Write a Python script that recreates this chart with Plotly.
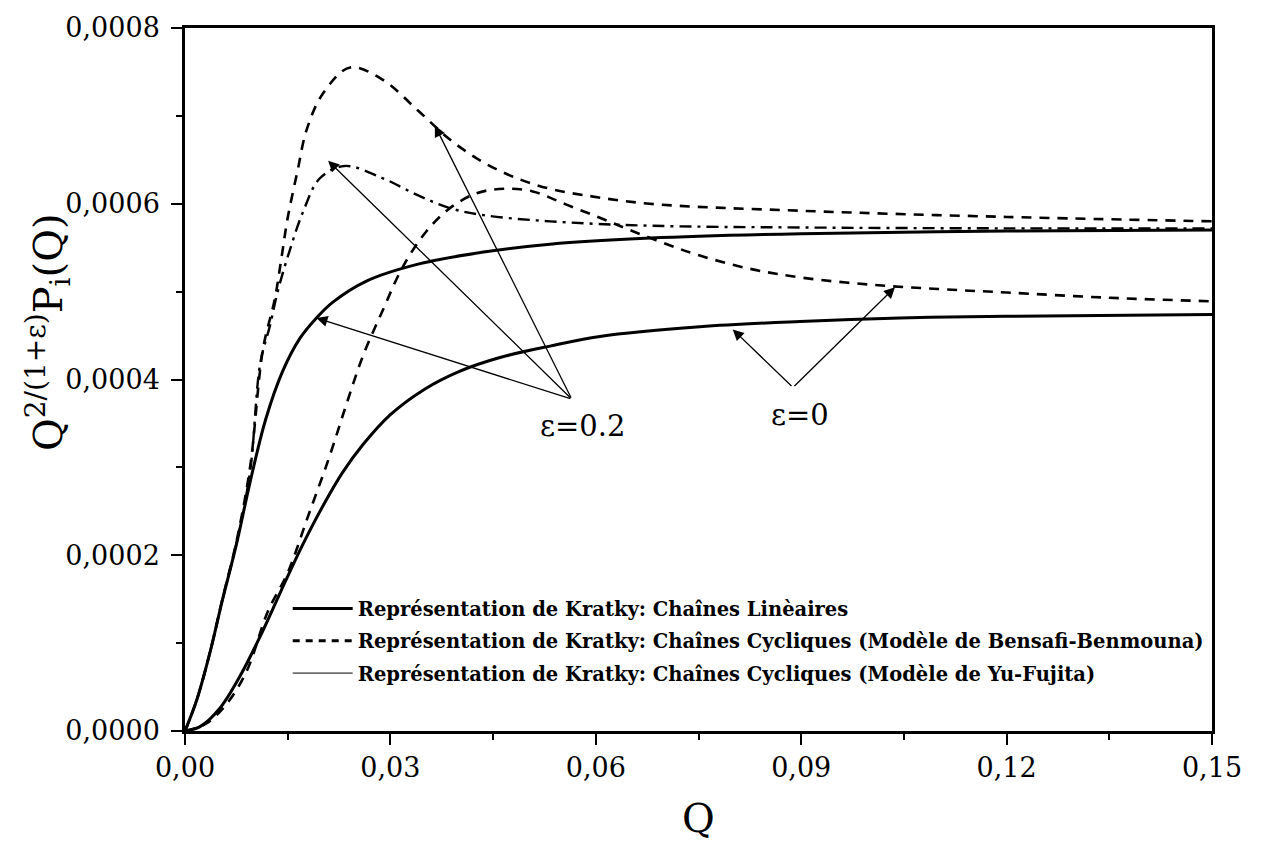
import plotly.graph_objects as go

# Q grid and Kratky curves, values in units of the y axis (Q^{2/(1+eps)} P_i(Q))
q_lin_e02 = [0.0, 0.0017, 0.0037, 0.0054, 0.0075, 0.0095, 0.0118, 0.0143, 0.0168,
             0.0192, 0.0216, 0.0265, 0.0339, 0.0436, 0.0533, 0.068, 0.09, 0.12, 0.15]
v_lin_e02 = [0.0, 0.000035, 0.000091, 0.000147, 0.000212, 0.000283, 0.000355, 0.000410,
             0.000447, 0.000470, 0.000488, 0.000512, 0.000531, 0.000545, 0.000554,
             0.000561, 0.000566, 0.000569, 0.000570]

q_lin_e0 = [0.0, 0.0022, 0.005, 0.008, 0.011, 0.014, 0.017, 0.02, 0.023, 0.026, 0.03,
            0.035, 0.04, 0.046, 0.0533, 0.0606, 0.0752, 0.0898, 0.1044, 0.12, 0.15]
v_lin_e0 = [0.0, 0.000005, 0.000025, 0.000062, 0.000108, 0.000159, 0.000209, 0.000254,
            0.000294, 0.000326, 0.000360, 0.000389, 0.000409, 0.000425, 0.000438,
            0.000449, 0.000460, 0.000466, 0.000470, 0.000472, 0.000474]

q_bb_e02 = [0.0, 0.0017, 0.0037, 0.0054, 0.0075, 0.0095, 0.0114, 0.0131, 0.0141, 0.015,
            0.0164, 0.0178, 0.0202, 0.0241, 0.0289, 0.0339, 0.0387, 0.0436, 0.0485,
            0.0533, 0.0581, 0.0679, 0.09, 0.12, 0.15]
v_bb_e02 = [0.0, 0.000035, 0.000091, 0.000148, 0.000215, 0.000300, 0.000435, 0.000491,
            0.000539, 0.000584, 0.000636, 0.000685, 0.000726, 0.000755, 0.000741,
            0.000707, 0.000673, 0.000647, 0.000629, 0.000617, 0.000610, 0.000600,
            0.000592, 0.000585, 0.000580]

q_bb_e0 = [0.0, 0.003, 0.006, 0.009, 0.0121, 0.015, 0.018, 0.021, 0.0235, 0.026, 0.0289,
           0.0318, 0.0353, 0.0387, 0.0426, 0.0465, 0.0508, 0.0557, 0.0606, 0.065, 0.07,
           0.0752, 0.0825, 0.09, 0.1, 0.11, 0.12, 0.135, 0.15]
v_bb_e0 = [0.0, 0.000008, 0.000030, 0.000068, 0.000136, 0.000180, 0.000245, 0.000310,
           0.000370, 0.000427, 0.000479, 0.000528, 0.000569, 0.000595, 0.000612,
           0.000617, 0.000614, 0.000599, 0.000584, 0.000570, 0.000555, 0.000541,
           0.000526, 0.000516, 0.000508, 0.000503, 0.000499, 0.000493, 0.000489]

q_yf_e02 = [0.0, 0.0017, 0.0037, 0.0054, 0.0075, 0.0095, 0.011, 0.0124, 0.0136, 0.0153,
            0.0173, 0.0197, 0.0233, 0.0289, 0.0339, 0.0387, 0.0436, 0.0533, 0.068,
            0.09, 0.12, 0.15]
v_yf_e02 = [0.0, 0.000035, 0.000091, 0.000147, 0.000213, 0.000295, 0.000419, 0.000461,
            0.000502, 0.000547, 0.000592, 0.000629, 0.000643, 0.000629, 0.000610,
            0.000595, 0.000587, 0.000580, 0.000575, 0.000573, 0.000572, 0.000572]

legend_names = [
    "Représentation de Kratky: Chaînes Linèaires",
    "Représentation de Kratky: Chaînes Cycliques (Modèle de Bensafi-Benmouna)",
    "Représentation de Kratky: Chaînes Cycliques (Modèle de Yu-Fujita)",
]

x_ticks = [0.0, 0.03, 0.06, 0.09, 0.12, 0.15]
x_tick_text = ["0,00", "0,03", "0,06", "0,09", "0,12", "0,15"]
y_ticks = [0.0, 0.0002, 0.0004, 0.0006, 0.0008]
y_tick_text = ["0,0000", "0,0002", "0,0004", "0,0006", "0,0008"]

SERIF = "DejaVu Serif"

fig = go.Figure()

# curves
fig.add_trace(go.Scatter(x=q_lin_e02, y=v_lin_e02, mode="lines", line_shape="spline",
                         line=dict(color="black", width=3), showlegend=False))
fig.add_trace(go.Scatter(x=q_lin_e0, y=v_lin_e0, mode="lines", line_shape="spline",
                         line=dict(color="black", width=3), showlegend=False))
fig.add_trace(go.Scatter(x=q_bb_e02, y=v_bb_e02, mode="lines", line_shape="spline",
                         line=dict(color="black", width=2.6, dash="10px,8px"), showlegend=False))
fig.add_trace(go.Scatter(x=q_bb_e0, y=v_bb_e0, mode="lines", line_shape="spline",
                         line=dict(color="black", width=2.6, dash="10px,8px"), showlegend=False))
fig.add_trace(go.Scatter(x=q_yf_e02, y=v_yf_e02, mode="lines", line_shape="spline",
                         line=dict(color="black", width=2.4, dash="12px,6px,3px,6px"),
                         showlegend=False))

# legend entries
legend_styles = [dict(width=3), dict(width=3, dash="7px,6px"), dict(width=1)]
for i, (name, st) in enumerate(zip(legend_names, legend_styles)):
    fig.add_trace(go.Scatter(x=[None], y=[None], mode="lines", name=name,
                             legendgroup=f"g{i}", line=dict(color="black", **st)))

# arrows
def arrow(x_head, y_head, x_tail, y_tail):
    fig.add_annotation(x=x_head, y=y_head, ax=x_tail, ay=y_tail, xref="x", yref="y",
                       axref="x", ayref="y", text="", showarrow=True, arrowhead=2,
                       arrowsize=1.7, arrowwidth=1.3, arrowcolor="black", standoff=0)

tail_e02 = (0.0565, 0.0003776)
for head in [(0.0192, 0.000470), (0.0209, 0.000649), (0.0365, 0.000689)]:
    arrow(head[0], head[1], *tail_e02)
tail_e0 = (0.0888, 0.000391)
for head in [(0.0800, 0.000457), (0.1037, 0.000505)]:
    arrow(head[0], head[1], *tail_e0)

fig.add_annotation(x=0.0580, y=0.000347, text="ε=0.2", showarrow=False,
                   font=dict(family=SERIF, size=29, color="black"))
fig.add_annotation(x=0.0898, y=0.000360, text="ε=0", showarrow=False,
                   font=dict(family=SERIF, size=29, color="black"))

# y axis title
fig.add_annotation(xref="paper", yref="paper", x=-0.163, y=0.567, textangle=-90,
                   text="Q<sup>2/(1+ε)</sup>P<sub>i</sub>(Q)", showarrow=False,
                   font=dict(family=SERIF, size=40, color="black"))

axis_common = dict(showgrid=False, zeroline=False, showline=True, linecolor="black",
                   linewidth=2.5, mirror=True, ticks="outside", ticklen=11, tickwidth=1.8,
                   tickcolor="black", tickfont=dict(family=SERIF, size=27, color="black"))

fig.update_xaxes(range=[0, 0.15], tickvals=x_ticks, ticktext=x_tick_text,
                 minor=dict(ticks="outside", ticklen=6, tickwidth=1.5, tickcolor="black",
                            dtick=0.015, tick0=0),
                 title=dict(text="Q", font=dict(family=SERIF, size=40, color="black"),
                            standoff=22),
                 **axis_common)
fig.update_yaxes(range=[0, 0.0008], tickvals=y_ticks, ticktext=y_tick_text,
                 minor=dict(ticks="outside", ticklen=6, tickwidth=1.5, tickcolor="black",
                            dtick=0.0001, tick0=0),
                 ticklabelstandoff=6, **axis_common)

fig.update_layout(
    width=1263, height=850,
    margin=dict(l=185, r=51, t=17, b=119),
    plot_bgcolor="white", paper_bgcolor="white",
    legend=dict(x=0.100, y=0.2017, xanchor="left", yanchor="top",
                bgcolor="rgba(0,0,0,0)", tracegroupgap=4, itemwidth=60,
                font=dict(family=SERIF, size=19.5, color="black", weight="bold")),
)

fig.write_html("out.html")
